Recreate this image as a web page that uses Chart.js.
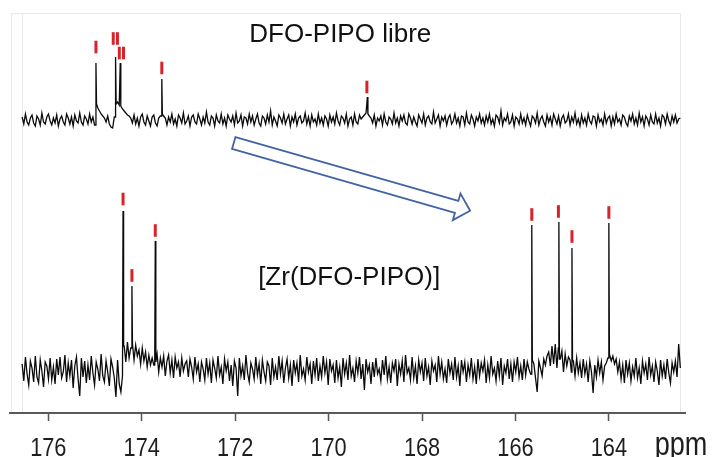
<!DOCTYPE html>
<html>
<head>
<meta charset="utf-8">
<script src="https://cdn.jsdelivr.net/npm/chart.js@4.4.1/dist/chart.umd.min.js"></script>
<style>
  html, body { margin: 0; padding: 0; background: #fff; }
  canvas { display: block; }
</style>
</head>
<body>
<canvas id="nmrChart" width="712" height="457"></canvas>
<script>
// 13C NMR, carbonyl region - spectral window of the recorded data
const START_PPM = 176.56;
const END_PPM = 162.47;
const tickValues = [176, 174, 172, 170, 168, 166, 164];

// stacking offsets of the two traces (intensity units)
const TOP_OFFSET = 293;
const BOTTOM_OFFSET = 43;

// DFO-PIPO libre : baseline (noise) read along the trace, then peaks
const topBaseline = [
  3, -4, 6, -2, -5, 2, 5, -3, -6, 4, 1, -5, 7, -2, -4, 3, 6, -1, -5, 2,
  -3, 5, -6, 1, 4, -2, -5, 6, 2, -4, 3, -6, 5, -1, -3, 7, -2, -5, 4, 1,
  -4, 6, -2, 3, -5, 16, 12, 9, 6, 4, 2, -2, 4, -4, -7, -8, 3, 16, 18, 15,
  14, 11, 9, 7, 5, 4, 2, -3, 5, -4, 2, -6, 3, 6, -2, -5, 4, -1, -6, 3,
  5, -3, -6, 2, 4, 6, 4, 2, -5, 3, -2, 6, -4, 1, -6, 5, 2, -3, 7, -4,
  -1, 4, -6, 3, 5, -2, -4, 6, 1, -5, 3, -3, 8, -2, -5, 4, 2, -6, 5, -1,
  -3, 6, -4, 2, -6, 5, 1, -2, 4, -5, 7, -3, -1, 5, -6, 3, 2, -4, 6, -2,
  4, -5, 1, 6, -3, -6, 4, 2, -4, 5, -2, 9, -5, 3, -1, -6, 5, 2, -3, 6,
  -4, 1, 5, -6, 3, -2, 6, -5, 2, 4, -3, -1, 7, -4, 3, -6, 5, -2, 1, -5,
  6, -3, 2, -5, 4, 1, -6, 5, -2, 3, -4, 7, -1, -5, 4, 2, -3, 6, -6, 1,
  3, -5, 6, -2, -4, 5, 1, 3, 5, 7, 6, 4, 2, -3, 5, -6, 2, -1, 4, -5,
  6, -2, -5, 3, 1, -4, 7, -3, 2, -6, 4, -1, 5, -3, -5, 6, 2, -4, 3, -2,
  -6, 5, 1, -3, 6, -5, 2, 4, -2, -4, 8, -3, 1, 5, -6, 3, -1, 4, -5, 2,
  5, -4, -1, 6, -3, 2, -6, 4, 3, -5, 7, -2, -4, 5, 1, -6, 3, -1, 6, -3,
  2, -5, 4, -2, 6, -4, 1, -6, 5, 3, -3, 9, -5, 2, -1, 6, -4, -2, 5, -6,
  3, 1, -4, 6, -3, 2, -5, 5, -1, -6, 4, 2, -3, 7, -5, 1, 4, -2, -6, 5,
  -2, 3, -5, 6, 1, -4, 4, -6, 2, 5, -3, -1, 6, -5, 3, -2, 7, -4, 1, -6,
  5, -3, 2, -5, 6, -1, -4, 4, 3, -6, 5, -2, 1, -5, 6, -3, 2, 4, -6, 3,
  -4, 6, -2, 1, -5, 5, 3, -3, -6, 4, -1, 6, -4, 2, -5, 7, -2, 3, -6, 4,
  1, -5, 5, -2, -4, 6, -3, 2, -6, 5, 3, -4, 6, -1, -5, 4, -2, 5, -3, 1,
  2
];
const topPeakPpm = [174.98, 174.56, 174.46, 173.57, 169.17];
const topPeakHeight = [57, 63, 57, 41, 23];

// [Zr(DFO-PIPO)]
const bottomBaseline = [
  6, -11, 13, -4, -15, 9, 2, -12, 14, -7, -13, 10, -1, -17, 8, 4, -9, 12, -10, 3,
  -14, 11, -5, 13, -8, -2, 15, -12, 7, -6, 10, -18, 4, 13, -9, -26, 12, -7, 9, -13,
  5, -10, 14, -3, -15, 8, 1, -11, 16, -6, -12, 9, -2, -16, 11, 3, -8, -27, 10, -14,
  -22, -6, 24, 8, 28, 12, 22, 26, 10, 25, 14, 20, 6, 22, 9, 18, 3, 15, 5, 12,
  5, 8, 16, -2, 12, 3, 14, -6, 9, 15, -3, 10, -8, 13, 2, 8, -7, 12, -1, 6,
  9, -7, 11, 3, -9, 13, -2, 6, -12, 8, 1, -10, 12, -4, 7, -13, 10, 2, -8, 14,
  -5, 3, -14, 11, -1, 8, -11, 5, -16, 9, 2, -26, 12, -6, 4, -10, 15, -3, -12, 7,
  1, -9, 13, -5, 6, -14, 10, -2, -11, 8, 4, -15, 12, -7, 3, -10, 14, -4, 9, -13,
  2, 11, -8, 5, -16, 10, -3, 7, -12, 15, -6, 1, -10, 13, -2, 6, -14, 9, -5, 12,
  -11, 4, -7, 14, -3, 8, -15, 11, -1, 5, -13, 10, -8, 3, -17, 12, -4, 7, -10, 15,
  -6, 2, -12, 9, -3, 13, -9, 6, -20, 11, -2, 5, -14, 8, -7, 12, -4, 1, -11, 10,
  -5, 14, -9, 3, -13, 7, -1, 11, -16, 6, -4, 9, -12, 15, -3, 2, -10, 13, -8, 4,
  -14, 10, -2, 7, -11, 12, -6, 3, -15, 9, -1, 5, -12, 14, -4, 8, -9, 1, -13, 11,
  -3, 6, -10, 13, -7, 4, -16, 10, -2, 8, -12, 5, -5, 12, -9, 3, -14, 11, -6, 7,
  -1, 10, -13, 5, -8, 14, -4, 2, -11, 9, -6, 12, -15, 4, -3, 11, -9, 6, -12, 8,
  -2, 13, -7, 4, -10, 11, -5, 8, 1, -4, 10, 6, -8, -22, 9, 2, -6, 11, 5, 14,
  18, 4, 24, 6, 26, 2, 22, 11, 19, -2, 16, 4, 13, 10, -2, 9, -6, 12, -3, 7,
  -8, 11, -4, 6, -12, 9, -2, -23, 5, -7, 10, -3, 8, -10, 4, 7, 12, 16, 9, 14,
  6, 11, -2, 8, -9, 5, -13, 10, -4, 7, -11, 3, -6, 12, -8, 2, -14, 9, -3, 6,
  -10, 13, -5, 4, -12, 8, -1, -15, 10, -6, 5, -9, 11, -3, -13, 7, -2, 9, -7, 26,
  2
];
const bottomPeakPpm = [174.40, 174.21, 173.71, 165.65, 165.07, 164.79, 164.00];
const bottomPeakHeight = [159, 84, 129, 145, 148, 122, 147];

// red assignment marks above the peaks
const markPpm = [174.98, 174.61, 174.52, 174.48, 174.39, 173.57, 169.18,
                 174.40, 174.21, 173.71, 165.65, 165.08, 164.79, 164.00];
const markLevel = [366, 374.5, 374.5, 360, 360, 345, 326,
                   214, 137.5, 182.5, 198.5, 201.5, 176.5, 200.5];

// labels and arrow (data coordinates)
const traceLabels = [
  { text: 'DFO-PIPO libre', ppm: 169.75, y: 371 },
  { text: '[Zr(DFO-PIPO)]', ppm: 169.56, y: 128 }
];
const arrowFrom = { ppm: 172.03, y: 270 };
const arrowTo = { ppm: 166.97, y: 202.3 };

function buildTrace(baseline, peakPpm, peakHeight, offset) {
  const step = (START_PPM - END_PPM) / (baseline.length - 1);
  const half = 0.012;
  let pts = baseline.map((v, i) => ({ x: START_PPM - i * step, y: offset + v }));
  pts = pts.filter(p => !peakPpm.some(pk => Math.abs(p.x - pk) < half + 0.002));
  peakPpm.forEach((pk, k) => {
    const pos = (START_PPM - pk) / step;
    const left = baseline[Math.max(0, Math.floor(pos))];
    const right = baseline[Math.min(baseline.length - 1, Math.ceil(pos))];
    pts.push({ x: pk + half, y: offset + left }, { x: pk, y: offset + peakHeight[k] }, { x: pk - half, y: offset + right });
  });
  pts.sort((a, b) => b.x - a.x);
  return pts;
}

const FONT = "'Liberation Sans', Arial, sans-serif";

// draws condensed text (the figure uses a narrow face)
function narrowText(ctx, text, x, y, size, squeeze) {
  ctx.save();
  ctx.font = size + 'px ' + FONT;
  ctx.textAlign = 'center';
  ctx.textBaseline = 'alphabetic';
  ctx.translate(x, y);
  ctx.scale(squeeze, 1);
  ctx.fillText(text, 0, 0);
  ctx.restore();
}

const decorPlugin = {
  id: 'decor',
  beforeDraw(chart) {
    const ctx = chart.ctx;
    ctx.save();
    ctx.strokeStyle = '#e9e9e9';
    ctx.lineWidth = 1;
    ctx.strokeRect(11.5, 13.5, 669, 399);
    ctx.beginPath();
    ctx.moveTo(22.5, 13.5);
    ctx.lineTo(22.5, 412);
    ctx.stroke();
    ctx.restore();
  },
  afterDatasetsDraw(chart) {
    const ctx = chart.ctx;
    const xs = chart.scales.x, ys = chart.scales.y;
    ctx.save();
    // trace labels
    ctx.fillStyle = '#111';
    ctx.font = '26px ' + FONT;
    ctx.textAlign = 'center';
    ctx.textBaseline = 'alphabetic';
    traceLabels.forEach(l => {
      ctx.fillText(l.text, xs.getPixelForValue(l.ppm), ys.getPixelForValue(l.y));
    });
    // block arrow
    const x0 = xs.getPixelForValue(arrowFrom.ppm), y0 = ys.getPixelForValue(arrowFrom.y);
    const x1 = xs.getPixelForValue(arrowTo.ppm), y1 = ys.getPixelForValue(arrowTo.y);
    const len = Math.hypot(x1 - x0, y1 - y0);
    const ux = (x1 - x0) / len, uy = (y1 - y0) / len;
    const nx = -uy, ny = ux;
    const sw = 6.2, hw = 13.8, hl = 14;
    const bx = x1 - ux * hl, by = y1 - uy * hl;
    ctx.beginPath();
    ctx.moveTo(x0 + nx * sw, y0 + ny * sw);
    ctx.lineTo(bx + nx * sw, by + ny * sw);
    ctx.lineTo(bx + nx * hw, by + ny * hw);
    ctx.lineTo(x1, y1);
    ctx.lineTo(bx - nx * hw, by - ny * hw);
    ctx.lineTo(bx - nx * sw, by - ny * sw);
    ctx.lineTo(x0 - nx * sw, y0 - ny * sw);
    ctx.closePath();
    ctx.fillStyle = '#fff';
    ctx.fill();
    ctx.strokeStyle = '#4264a3';
    ctx.lineWidth = 1.8;
    ctx.stroke();
    // tick labels and unit
    ctx.fillStyle = '#1e1e1e';
    tickValues.forEach(v => narrowText(ctx, String(v), xs.getPixelForValue(v), 456, 26.5, 0.82));
    narrowText(ctx, 'ppm', 681, 455, 33, 0.82);
    ctx.restore();
  }
};

const ctx = document.getElementById('nmrChart').getContext('2d');
new Chart(ctx, {
  type: 'line',
  data: {
    datasets: [
      {
        label: 'DFO-PIPO libre',
        data: buildTrace(topBaseline, topPeakPpm, topPeakHeight, TOP_OFFSET),
        borderColor: '#0a0a0a',
        borderWidth: 1.3,
        pointRadius: 0,
        tension: 0
      },
      {
        label: '[Zr(DFO-PIPO)]',
        data: buildTrace(bottomBaseline, bottomPeakPpm, bottomPeakHeight, BOTTOM_OFFSET),
        borderColor: '#0a0a0a',
        borderWidth: 1.3,
        pointRadius: 0,
        tension: 0
      },
      {
        type: 'scatter',
        label: 'marks',
        data: markPpm.map((p, i) => ({ x: p, y: markLevel[i] })),
        pointStyle: 'line',
        rotation: 90,
        pointRadius: 6.3,
        pointBorderWidth: 3,
        borderColor: '#d9232a',
        backgroundColor: '#d9232a'
      }
    ]
  },
  options: {
    responsive: false,
    animation: false,
    devicePixelRatio: 1,
    layout: { padding: { left: 10, right: 27, top: 13, bottom: 0 } },
    plugins: { legend: { display: false }, tooltip: { enabled: false } },
    scales: {
      x: {
        type: 'linear',
        reverse: true,
        min: 162.37,
        max: 176.82,
        afterBuildTicks: scale => { scale.ticks = tickValues.map(v => ({ value: v })); },
        afterFit: scale => { scale.height = 44; },
        border: { display: true, color: '#5a5a5a', width: 2 },
        grid: { drawOnChartArea: false, drawTicks: true, tickLength: 8, tickColor: '#555', tickWidth: 1.5 },
        ticks: { display: false }
      },
      y: { display: false, min: 0, max: 400 }
    }
  },
  plugins: [decorPlugin]
});
</script>
</body>
</html>
